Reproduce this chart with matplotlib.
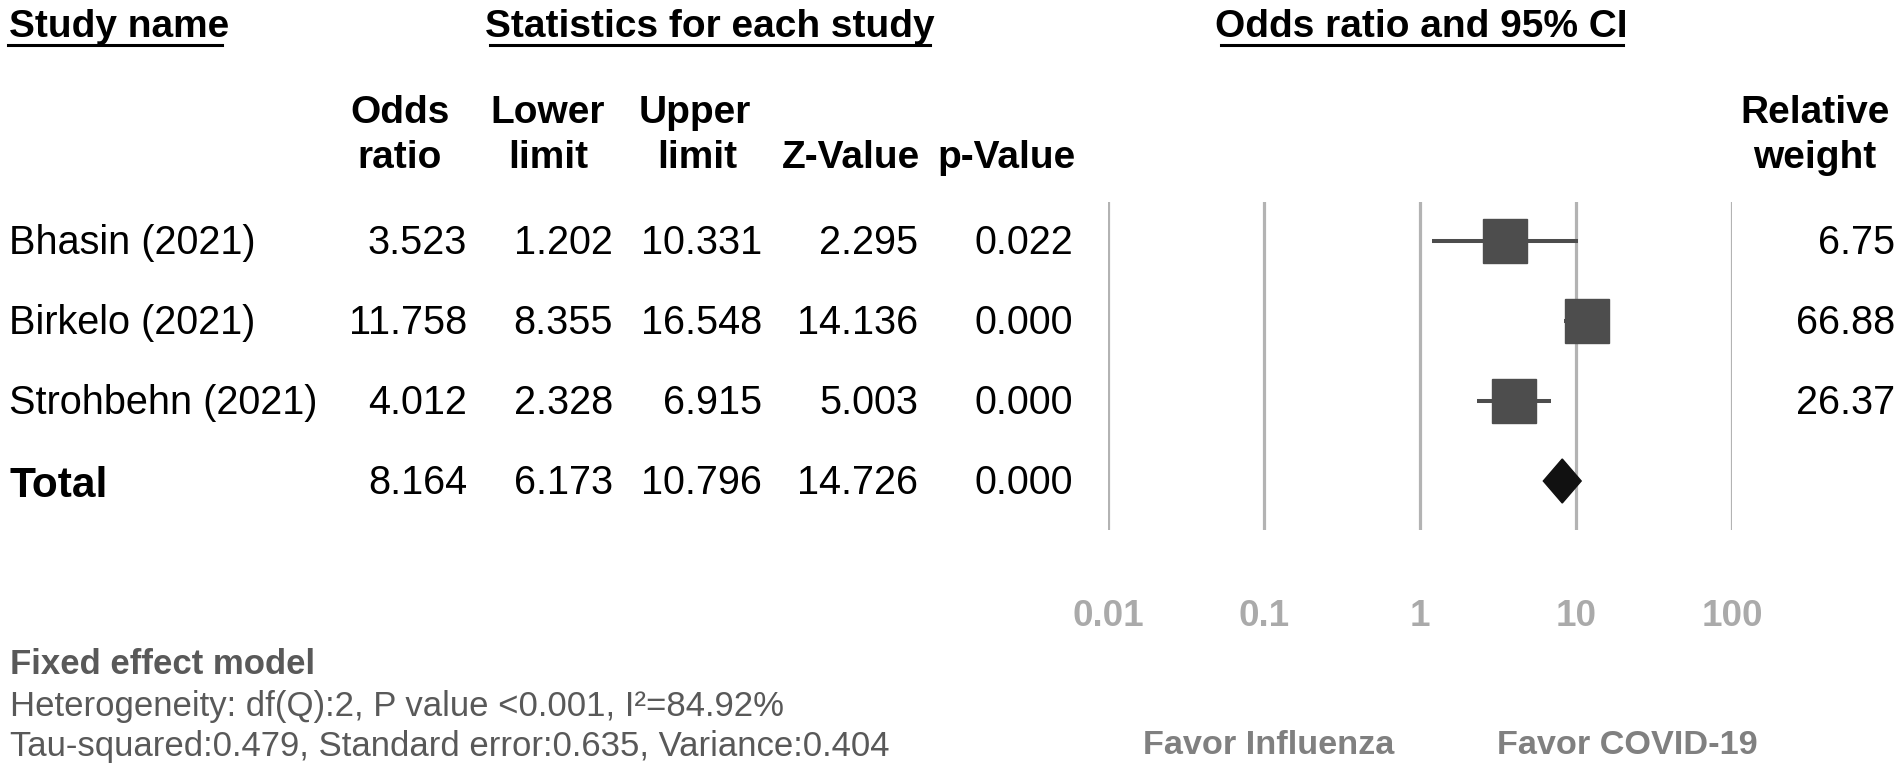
import numpy as np
import matplotlib
matplotlib.use("Agg")
import matplotlib.pyplot as plt
from matplotlib.lines import Line2D
from matplotlib.patches import Polygon

plt.rcParams['font.family'] = ['Liberation Sans', 'DejaVu Sans']

# ── data ──
studies   = ["Bhasin (2021)", "Birkelo (2021)", "Strohbehn (2021)"]
odds      = [3.523, 11.758, 4.012]
lower     = [1.202, 8.355, 2.328]
upper     = [10.331, 16.548, 6.915]
z_values  = [2.295, 14.136, 5.003]
p_values  = [0.022, 0.000, 0.000]
weights   = [6.75, 66.88, 26.37]

total_or, total_lo, total_hi = 8.164, 6.173, 10.796
total_z, total_p = 14.726, 0.000

ticks       = [0.01, 0.1, 1, 10, 100]
tick_labels = ["0.01", "0.1", "1", "10", "100"]

W, H = 1902, 771
fig = plt.figure(figsize=(W / 100, H / 100), dpi=100)


def ftxt(x, y, s, **kw):
    # place text in figure pixel coords (y from top)
    fig.text(x / W, 1 - y / H, s, va="baseline", **kw)


def uline(x0, x1, y):
    fig.add_artist(Line2D([x0 / W, x1 / W], [1 - y / H, 1 - y / H],
                          color="black", lw=2.2, transform=fig.transFigure))


# ── section headers ──
HB = dict(fontsize=28, fontweight="bold", color="black")
ftxt(9, 37, "Study name", ha="left", **HB)
uline(8, 222, 45)
ftxt(710, 37, "Statistics for each study", ha="center", **HB)
uline(490, 930, 45)
ftxt(1421, 37, "Odds ratio and 95% CI", ha="center", **HB)
uline(1221, 1623, 45)

# ── column headers ──
ftxt(400, 123, "Odds", ha="center", **HB)
ftxt(400, 168, "ratio", ha="center", **HB)
ftxt(548, 123, "Lower", ha="center", **HB)
ftxt(548, 168, "limit", ha="center", **HB)
ftxt(695, 123, "Upper", ha="center", **HB)
ftxt(697, 168, "limit", ha="center", **HB)
ftxt(851, 168, "Z-Value", ha="center", **HB)
ftxt(1007, 168, "p-Value", ha="center", **HB)
ftxt(1815, 123, "Relative", ha="center", **HB)
ftxt(1815, 168, "weight", ha="center", **HB)

# ── table rows ──
row_y = [241, 321, 401]
col_right = [467, 613, 762, 918, 1073]
RB = dict(fontsize=28.5, color="black")
for i, name in enumerate(studies):
    yb = row_y[i] + 13
    ftxt(9, yb, name, ha="left", **RB)
    vals = [f"{odds[i]:.3f}", f"{lower[i]:.3f}", f"{upper[i]:.3f}",
            f"{z_values[i]:.3f}", f"{p_values[i]:.3f}"]
    for xr, v in zip(col_right, vals):
        ftxt(xr, yb, v, ha="right", **RB)
    ftxt(1895, yb, f"{weights[i]:.2f}", ha="right", **RB)

yb = 481 + 14
ftxt(9, yb + 2, "Total", ha="left", fontsize=30.5, fontweight="bold", color="black")
tvals = [f"{total_or:.3f}", f"{total_lo:.3f}", f"{total_hi:.3f}",
         f"{total_z:.3f}", f"{total_p:.3f}"]
for xr, v in zip(col_right, tvals):
    ftxt(xr, yb - 1, v, ha="right", **RB)

# ── forest plot axes ──
ax_l, ax_r, ax_t, ax_b = 1108, 1732, 202, 530
ax = fig.add_axes([ax_l / W, 1 - ax_b / H, (ax_r - ax_l) / W, (ax_b - ax_t) / H])
ax.set_xscale("log")
ax.set_xlim(0.01, 100)
ax.set_ylim(3.6125, -0.4875)
for t in ticks:
    ax.axvline(t, color="#b3b3b3", lw=2.3, zorder=0)

ypos = np.arange(len(studies))
ax.hlines(ypos, lower, upper, color="#4d4d4d", lw=2.9, zorder=2)
ax.plot(odds, ypos, "s", color="#4d4d4d", markersize=32, zorder=3)

ty = len(studies)
diamond = Polygon([[total_lo, ty], [total_or, ty - 0.275],
                   [total_hi, ty], [total_or, ty + 0.275]],
                  closed=True, color="#111111", zorder=3)
ax.add_patch(diamond)

ax.set_xticks(ticks)
ax.set_xticklabels(tick_labels, fontsize=26.5, fontweight="bold", color="#aaaaaa")
ax.xaxis.set_minor_locator(matplotlib.ticker.NullLocator())
ax.tick_params(axis="x", length=0, pad=50)
ax.set_yticks([])
for s in ax.spines.values():
    s.set_visible(False)
ax.patch.set_visible(False)

# ── favour labels ──
FB = dict(fontsize=24.7, fontweight="bold", color="#808080")
ftxt(1269, 754, "Favor Influenza", ha="center", **FB)
ftxt(1627, 754, "Favor COVID-19", ha="center", **FB)

# ── model notes ──
ftxt(10, 674, "Fixed effect model", ha="left", fontsize=25, fontweight="bold", color="#595959")
ftxt(10, 716, "Heterogeneity: df(Q):2, P value <0.001, I²=84.92%", ha="left",
     fontsize=25, color="#595959")
ftxt(10, 756, "Tau-squared:0.479, Standard error:0.635, Variance:0.404", ha="left",
     fontsize=25, color="#595959")

fig.savefig("out.png", dpi=100)
